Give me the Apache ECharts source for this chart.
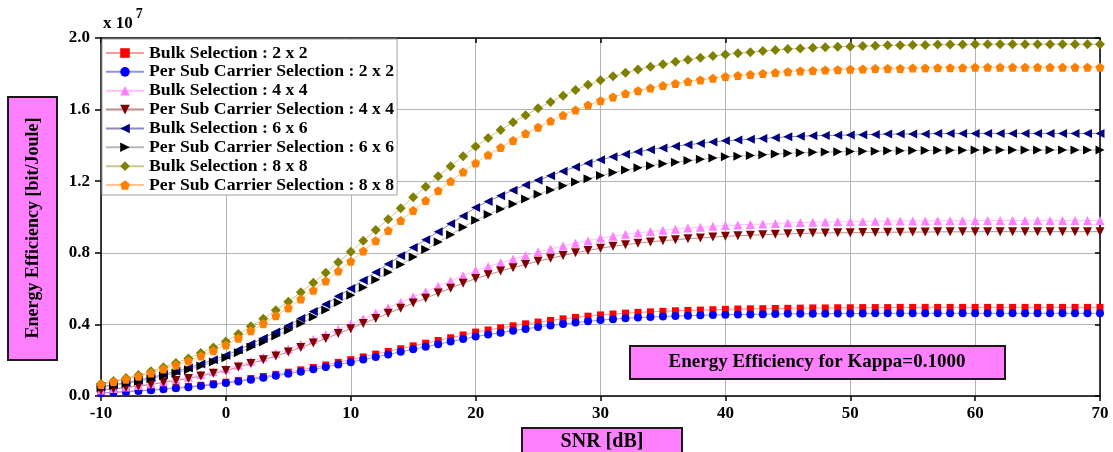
<!DOCTYPE html>
<html>
<head>
<meta charset="utf-8">
<script src="https://cdn.jsdelivr.net/npm/echarts@6/dist/echarts.min.js"></script>
<style>
html,body{margin:0;padding:0;background:#fff;}
#chart{width:1113px;height:452px;}
</style>
</head>
<body>
<div id="chart"></div>
<script>
// SNR [dB]
var snr = [-10,-9,-8,-7,-6,-5,-4,-3,-2,-1,0,1,2,3,4,5,6,7,8,9,10,11,12,13,14,15,16,17,18,19,20,21,22,23,24,25,26,27,28,29,30,31,32,33,34,35,36,37,38,39,40,41,42,43,44,45,46,47,48,49,50,51,52,53,54,55,56,57,58,59,60,61,62,63,64,65,66,67,68,69,70];

// Energy efficiency values (x 10^7 bit/Joule)
var bulk2 = [0.017,0.021,0.025,0.030,0.035,0.041,0.047,0.053,0.060,0.068,0.077,0.087,0.098,0.109,0.121,0.133,0.146,0.159,0.173,0.188,0.203,0.218,0.234,0.249,0.264,0.280,0.295,0.310,0.325,0.341,0.357,0.369,0.381,0.392,0.403,0.413,0.422,0.431,0.439,0.446,0.453,0.458,0.463,0.467,0.470,0.473,0.476,0.478,0.480,0.482,0.484,0.486,0.487,0.488,0.489,0.490,0.491,0.492,0.492,0.493,0.493,0.494,0.494,0.494,0.495,0.495,0.495,0.495,0.495,0.495,0.495,0.495,0.495,0.495,0.495,0.495,0.495,0.495,0.495,0.495,0.495];
var perSub2 = [0.016,0.020,0.024,0.028,0.032,0.038,0.043,0.049,0.056,0.064,0.072,0.081,0.091,0.102,0.113,0.124,0.136,0.149,0.162,0.176,0.189,0.204,0.218,0.232,0.247,0.261,0.275,0.289,0.304,0.318,0.332,0.343,0.354,0.365,0.375,0.385,0.394,0.402,0.410,0.417,0.424,0.429,0.434,0.438,0.441,0.444,0.447,0.449,0.451,0.453,0.454,0.455,0.456,0.457,0.458,0.459,0.459,0.460,0.460,0.461,0.461,0.461,0.462,0.462,0.462,0.462,0.462,0.462,0.462,0.462,0.462,0.462,0.462,0.462,0.462,0.462,0.462,0.462,0.462,0.462,0.462];
var bulk4 = [0.034,0.042,0.050,0.059,0.069,0.080,0.092,0.105,0.120,0.135,0.152,0.172,0.194,0.216,0.239,0.263,0.289,0.316,0.343,0.372,0.402,0.432,0.463,0.493,0.523,0.554,0.583,0.613,0.643,0.672,0.701,0.723,0.745,0.765,0.785,0.804,0.821,0.838,0.854,0.868,0.882,0.893,0.903,0.911,0.919,0.926,0.932,0.938,0.943,0.948,0.953,0.956,0.958,0.961,0.964,0.967,0.969,0.971,0.972,0.973,0.974,0.975,0.976,0.977,0.977,0.978,0.978,0.979,0.979,0.979,0.980,0.980,0.980,0.980,0.980,0.980,0.980,0.980,0.980,0.980,0.980];
var perSub4 = [0.032,0.039,0.047,0.055,0.064,0.075,0.086,0.098,0.112,0.127,0.142,0.162,0.182,0.202,0.224,0.246,0.271,0.296,0.321,0.349,0.376,0.405,0.433,0.462,0.490,0.519,0.546,0.575,0.602,0.630,0.656,0.677,0.698,0.717,0.735,0.753,0.769,0.785,0.800,0.813,0.826,0.836,0.845,0.854,0.861,0.868,0.873,0.879,0.883,0.888,0.892,0.895,0.898,0.901,0.903,0.906,0.908,0.910,0.911,0.912,0.912,0.913,0.914,0.915,0.915,0.916,0.916,0.917,0.917,0.917,0.918,0.918,0.918,0.918,0.918,0.918,0.918,0.918,0.918,0.918,0.918];
var bulk6 = [0.051,0.063,0.075,0.088,0.103,0.120,0.138,0.157,0.179,0.202,0.227,0.258,0.290,0.323,0.358,0.393,0.433,0.472,0.513,0.557,0.601,0.647,0.692,0.738,0.783,0.829,0.873,0.918,0.962,1.006,1.053,1.087,1.119,1.150,1.179,1.206,1.231,1.256,1.279,1.300,1.320,1.336,1.351,1.364,1.376,1.386,1.395,1.404,1.411,1.419,1.426,1.430,1.435,1.439,1.443,1.448,1.451,1.454,1.455,1.457,1.458,1.460,1.461,1.463,1.463,1.464,1.464,1.466,1.466,1.466,1.467,1.467,1.467,1.467,1.467,1.467,1.467,1.467,1.467,1.467,1.467];
var perSub6 = [0.048,0.059,0.070,0.082,0.096,0.113,0.129,0.147,0.168,0.190,0.213,0.242,0.272,0.302,0.335,0.368,0.405,0.442,0.481,0.522,0.563,0.606,0.649,0.691,0.734,0.776,0.818,0.860,0.901,0.943,0.982,1.014,1.044,1.073,1.101,1.127,1.151,1.175,1.196,1.214,1.232,1.248,1.262,1.275,1.287,1.297,1.306,1.315,1.322,1.329,1.336,1.340,1.344,1.348,1.352,1.356,1.359,1.362,1.363,1.364,1.366,1.367,1.368,1.370,1.370,1.371,1.371,1.373,1.373,1.373,1.374,1.374,1.374,1.374,1.374,1.374,1.374,1.374,1.374,1.374,1.374];
var bulk8 = [0.069,0.084,0.100,0.118,0.138,0.161,0.185,0.210,0.240,0.271,0.305,0.346,0.389,0.432,0.479,0.527,0.580,0.633,0.688,0.747,0.806,0.867,0.927,0.988,1.049,1.110,1.169,1.228,1.284,1.340,1.394,1.441,1.486,1.529,1.569,1.607,1.643,1.677,1.709,1.739,1.764,1.786,1.806,1.824,1.840,1.854,1.867,1.879,1.889,1.899,1.908,1.915,1.921,1.927,1.933,1.938,1.942,1.946,1.949,1.951,1.953,1.955,1.957,1.959,1.959,1.961,1.961,1.963,1.963,1.963,1.965,1.965,1.965,1.965,1.965,1.965,1.965,1.965,1.965,1.965,1.965];
var perSub8 = [0.064,0.079,0.094,0.110,0.129,0.151,0.173,0.196,0.224,0.253,0.285,0.323,0.364,0.404,0.448,0.492,0.542,0.591,0.643,0.698,0.753,0.810,0.867,0.924,0.980,1.037,1.092,1.147,1.200,1.252,1.302,1.346,1.388,1.428,1.466,1.502,1.536,1.568,1.598,1.626,1.650,1.671,1.690,1.706,1.721,1.734,1.746,1.757,1.766,1.775,1.785,1.790,1.796,1.801,1.807,1.812,1.816,1.819,1.821,1.823,1.825,1.827,1.829,1.830,1.830,1.832,1.832,1.834,1.834,1.834,1.836,1.836,1.836,1.836,1.836,1.836,1.836,1.836,1.836,1.836,1.836];

var seriesNames = [
  'Bulk Selection : 2 x 2',
  'Per Sub Carrier Selection : 2 x 2',
  'Bulk Selection : 4 x 4',
  'Per Sub Carrier Selection : 4 x 4',
  'Bulk Selection : 6 x 6',
  'Per Sub Carrier Selection : 6 x 6',
  'Bulk Selection : 8 x 8',
  'Per Sub Carrier Selection : 8 x 8'
];
var xTickLabels = ['-10','0','10','20','30','40','50','60','70'];
var yTickLabels = ['0.0','0.4','0.8','1.2','1.6','2.0'];

var FONT = "'Liberation Serif', 'Times New Roman', serif";

var styles = [
  {color:'#ff0000', line:'#ff9a9a', symbol:'rect', size:7},
  {color:'#0000ff', line:'#8f8fff', symbol:'circle', size:8},
  {color:'#ff80ff', line:'#ffc0ff', symbol:'triangle', size:9},
  {color:'#800000', line:'#c08a8a', symbol:'path://M-1,-1 L1,-1 L0,1 Z', size:9},
  {color:'#000080', line:'#8a8ac0', symbol:'path://M1,-1 L1,1 L-1,0 Z', size:9},
  {color:'#000000', line:'#b8b8b8', symbol:'path://M-1,-1 L-1,1 L1,0 Z', size:9},
  {color:'#808000', line:'#c8c890', symbol:'diamond', size:10},
  {color:'#ff8000', line:'#ffc690', symbol:'path://M0,-1 L0.951,-0.309 L0.588,0.809 L-0.588,0.809 L-0.951,-0.309 Z', size:9}
];
var dataSets = [bulk2, perSub2, bulk4, perSub4, bulk6, perSub6, bulk8, perSub8];

function pairs(ys){ var out=[]; for(var i=0;i<snr.length;i++){ out.push([snr[i], ys[i]]); } return out; }

var series = dataSets.map(function(ys, k){
  var s = styles[k];
  return {
    name: seriesNames[k],
    type: 'line',
    data: pairs(ys),
    symbol: s.symbol,
    symbolSize: s.size,
    showSymbol: true,
    clip: false,
    itemStyle: {color: s.color, borderWidth: 0},
    lineStyle: {color: s.line, width: 1},
    emphasis: {disabled: true},
    xAxisIndex: 0, yAxisIndex: 0
  };
});

var chart = echarts.init(document.getElementById('chart'), null, {renderer:'canvas'});
chart.setOption({
  animation: false,
  backgroundColor: '#ffffff',
  grid: {left: 101, right: 13, top: 38, bottom: 56, containLabel: false},
  legend: {
    orient: 'vertical',
    left: 102, top: 39,
    backgroundColor: '#ffffff',
    borderColor: '#a0a0a0', borderWidth: 1,
    padding: [5, 3, 1, 3],
    itemWidth: 38, itemHeight: 12, itemGap: 0.86,
    textStyle: {fontFamily: FONT, fontWeight: 'bold', fontSize: 17.7, color: '#000', lineHeight: 17},
    data: seriesNames
  },
  xAxis: [{
    type: 'value', min: -10, max: 70, interval: 10, position: 'bottom',
    axisLine: {show: true, onZero: false, lineStyle: {color: '#000', width: 1.5}},
    axisTick: {show: true, inside: false, length: 5, lineStyle: {color: '#000', width: 1.5}},
    axisLabel: {fontFamily: FONT, fontWeight: 'bold', fontSize: 17, color: '#000', margin: 9,
      formatter: function(v){ var i = Math.round((v + 10) / 10); return xTickLabels[i] !== undefined ? xTickLabels[i] : ''; }},
    splitLine: {show: true, lineStyle: {color: '#b4b4b4', width: 1}}
  }, {
    type: 'value', min: -10, max: 70, interval: 10, position: 'top',
    axisLine: {show: true, onZero: false, lineStyle: {color: '#000', width: 1.5}},
    axisTick: {show: true, inside: true, length: 5, lineStyle: {color: '#000', width: 1.5}},
    axisLabel: {show: false}, splitLine: {show: false}
  }],
  yAxis: [{
    type: 'value', min: 0, max: 2, interval: 0.4, position: 'left',
    axisLine: {show: true, onZero: false, lineStyle: {color: '#000', width: 1.5}},
    axisTick: {show: true, inside: false, length: 6, lineStyle: {color: '#000', width: 1.5}},
    axisLabel: {fontFamily: FONT, fontWeight: 'bold', fontSize: 17, color: '#000', margin: 11,
      formatter: function(v){ var i = Math.round(v / 0.4); return yTickLabels[i] !== undefined ? yTickLabels[i] : ''; }},
    splitLine: {show: true, lineStyle: {color: '#b4b4b4', width: 1}}
  }, {
    type: 'value', min: 0, max: 2, interval: 0.4, position: 'right',
    axisLine: {show: true, onZero: false, lineStyle: {color: '#000', width: 1.5}},
    axisTick: {show: true, inside: true, length: 5, lineStyle: {color: '#000', width: 1.5}},
    axisLabel: {show: false}, splitLine: {show: false}
  }],
  graphic: [
    {type: 'text', left: 103, top: 7, z: 10,
      style: {text: '{a|x 10}{b|7}', rich: {
        a: {fontFamily: FONT, fontWeight: 'bold', fontSize: 17, fill: '#000', padding: [8, 0, 0, 0]},
        b: {fontFamily: FONT, fontWeight: 'bold', fontSize: 14, fill: '#000', verticalAlign: 'top', padding: [0, 0, 0, 3]}
      }}},
    {type: 'rect', shape: {x: 8, y: 97, width: 49, height: 263}, z: 10,
      style: {fill: '#ff80ff', stroke: '#1a1a1a', lineWidth: 2}},
    {type: 'text', x: 33, y: 228, rotation: Math.PI / 2, z: 11,
      style: {text: 'Energy Efficiency [bit/Joule]', fontFamily: FONT, fontWeight: 'bold', fontSize: 18, fill: '#000', align: 'center', verticalAlign: 'middle'}},
    {type: 'rect', shape: {x: 522, y: 428, width: 160, height: 30}, z: 10,
      style: {fill: '#ff80ff', stroke: '#1a1a1a', lineWidth: 2}},
    {type: 'text', x: 602, y: 442, z: 11,
      style: {text: 'SNR [dB]', fontFamily: FONT, fontWeight: 'bold', fontSize: 20, fill: '#000', align: 'center', verticalAlign: 'middle'}},
    {type: 'rect', shape: {x: 630, y: 346, width: 375, height: 33}, z: 10,
      style: {fill: '#ff80ff', stroke: '#1a1a1a', lineWidth: 2}},
    {type: 'text', x: 817, y: 362, z: 11,
      style: {text: 'Energy Efficiency for Kappa=0.1000', fontFamily: FONT, fontWeight: 'bold', fontSize: 19, fill: '#000', align: 'center', verticalAlign: 'middle'}}
  ],
  series: series
});
</script>
</body>
</html>
